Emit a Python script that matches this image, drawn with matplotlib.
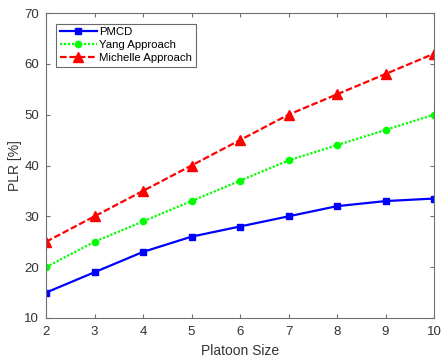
import matplotlib
matplotlib.use("Agg")
import matplotlib.pyplot as plt

platoon_size = [2, 3, 4, 5, 6, 7, 8, 9, 10]
pmcd = [15, 19, 23, 26, 28, 30, 32, 33, 33.5]
yang = [20, 25, 29, 33, 37, 41, 44, 47, 50]
michelle = [25, 30, 35, 40, 45, 50, 54, 58, 62]

plt.rcParams['font.family'] = ['Liberation Sans', 'DejaVu Sans']
axis_color = '#707070'

fig = plt.figure(figsize=(4.41, 3.6), dpi=100)
ax = fig.add_axes([46 / 441, 1 - 318 / 360, (434 - 46) / 441, (318 - 13) / 360])

ax.plot(platoon_size, pmcd, color='#0000ff', linestyle='-', linewidth=1.6,
        marker='s', markersize=5, label='PMCD')
ax.plot(platoon_size, yang, color='#00ff00', linestyle=(0, (1, 0.8)), linewidth=1.6,
        marker='o', markersize=4.5, label='Yang Approach')
ax.plot(platoon_size, michelle, color='#ff0000', linestyle=(0, (3, 1.2)), linewidth=1.6,
        marker='^', markersize=7, label='Michelle Approach')

ax.set_xlim(2, 10)
ax.set_ylim(10, 70)
ax.set_xticks(range(2, 11))
ax.set_yticks(range(10, 71, 10))
ax.tick_params(direction='in', top=True, right=True, length=3, width=0.8,
               colors=axis_color, labelcolor='#333333', labelsize=9.5)
ax.tick_params(axis='x', pad=6)
ax.tick_params(axis='y', pad=5)
for s in ax.spines.values():
    s.set_color(axis_color)
    s.set_linewidth(0.8)

ax.set_xlabel('Platoon Size', fontsize=10, color='#333333', labelpad=4)
ax.set_ylabel('PLR [%]', fontsize=10, color='#333333', labelpad=1.5)

leg = ax.legend(loc='upper left', bbox_to_anchor=(0.026, 0.965), fontsize=8.2,
                frameon=True, fancybox=False, borderpad=0.3, labelspacing=0.28,
                handlelength=3.3, handletextpad=0.2, borderaxespad=0)
leg.get_frame().set_edgecolor('#444444')
leg.get_frame().set_linewidth(0.8)

fig.savefig('out.png', dpi=100)
